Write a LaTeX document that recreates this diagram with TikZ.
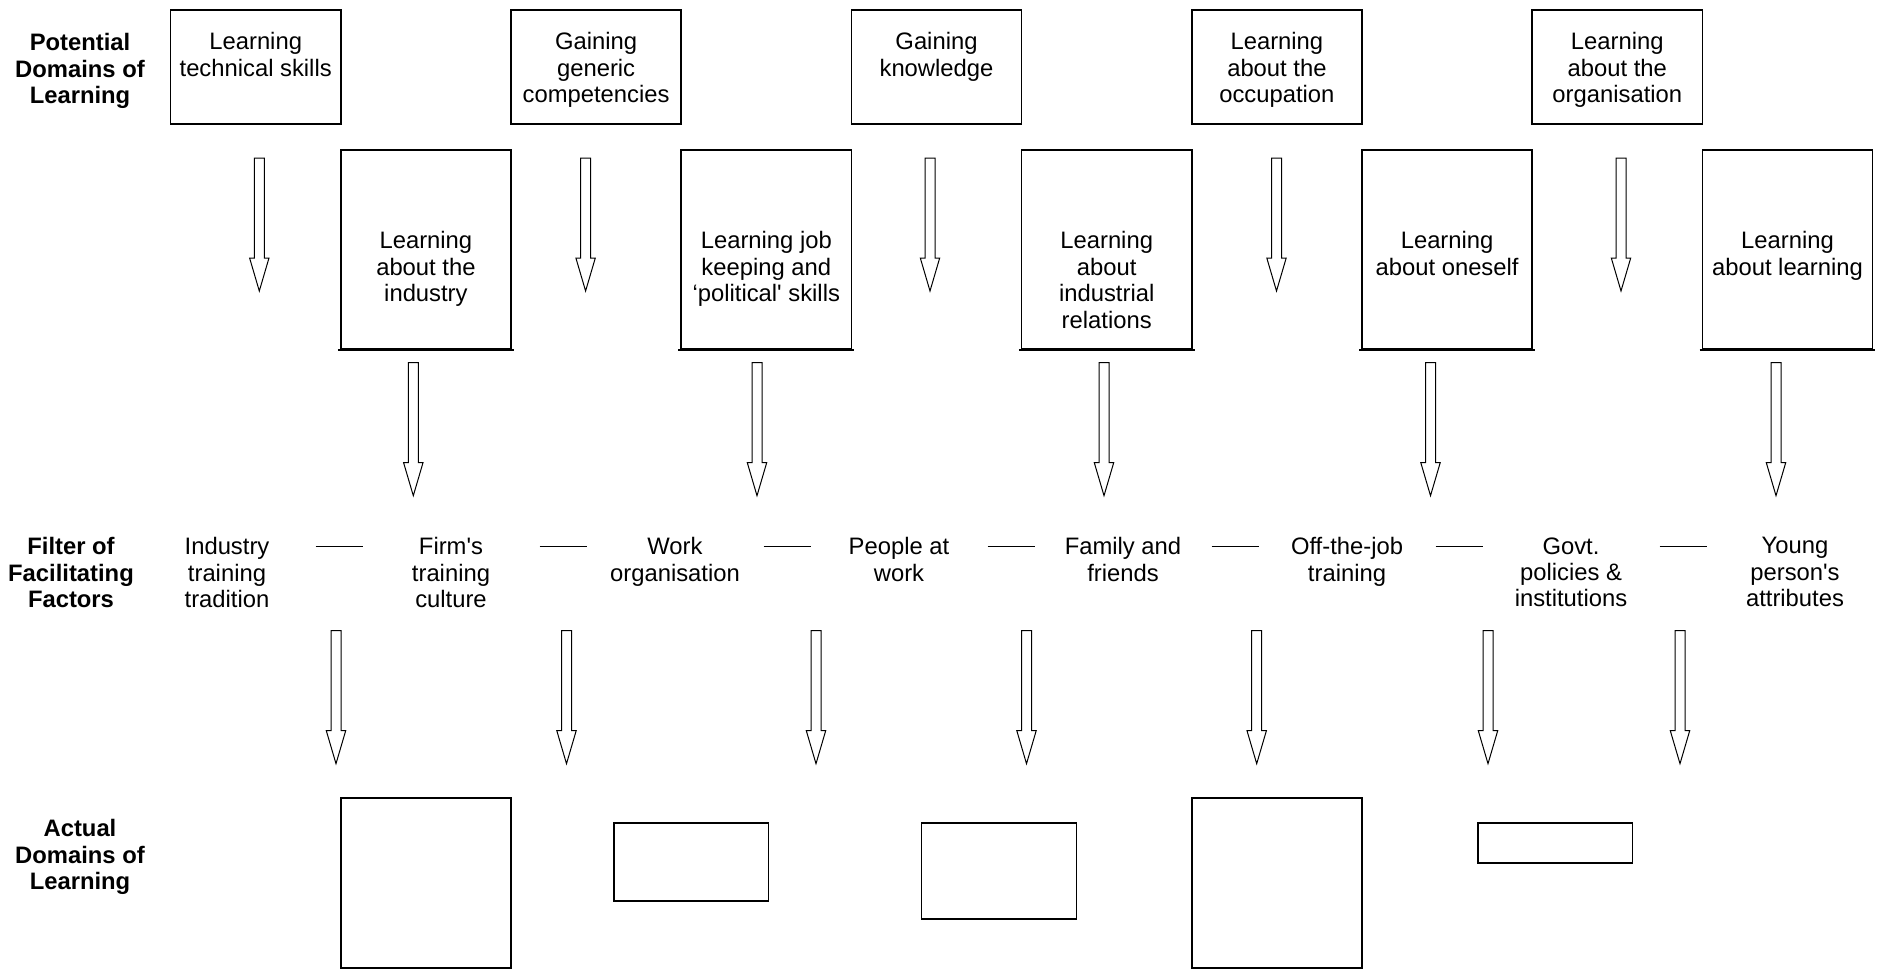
\documentclass[tikz,border=0pt]{standalone}
\usepackage{fontspec}
\setmainfont{Liberation Sans}
\usetikzlibrary{calc}

\begin{document}
\begin{tikzpicture}[x=0.5pt, y=-0.5pt, line join=miter,
  font=\fontsize{11.9}{13.2}\selectfont,
  topbox/.style={draw, line width=0.85pt, minimum width=85.1pt, minimum height=57pt, inner sep=0},
  midbox/.style={draw, line width=0.85pt, minimum width=85.1pt, minimum height=99.5pt, inner sep=0},
  actbox/.style={draw, line width=0.8pt, inner sep=0},
  txt/.style={anchor=north, inner sep=0, align=center},
  head/.style={txt, font=\fontsize{11.9}{13.2}\selectfont\bfseries},
  hollowarrow/.pic={\draw[line width=0.5pt] (-5,0) -- (5,0) -- (5,100) -- (9.7,100) -- (0,133) -- (-9.7,100) -- (-5,100) -- cycle;}
]
	\useasboundingbox (0,0) rectangle (1881,970);

	% row titles
	\node[head] (potential) at (80,33) {Potential\\Domains of\\Learning};
	\node[head] (filter) at (71,537) {Filter of\\Facilitating\\Factors};
	\node[head] (actual) at (80,819) {Actual\\Domains of\\Learning};

	% potential domains, upper row
	\node[topbox] (tech) at (255.7,67) {};
	\node[txt] at ([yshift=-11.5pt]tech.north) {Learning\\technical skills};
	\node[topbox] (generic) at (596.1,67) {};
	\node[txt] at ([yshift=-11.5pt]generic.north) {Gaining\\generic\\competencies};
	\node[topbox] (knowledge) at (936.5,67) {};
	\node[txt] at ([yshift=-11.5pt]knowledge.north) {Gaining\\knowledge};
	\node[topbox] (occupation) at (1276.9,67) {};
	\node[txt] at ([yshift=-11.5pt]occupation.north) {Learning\\about the\\occupation};
	\node[topbox] (organisation) at (1617.3,67) {};
	\node[txt] at ([yshift=-11.5pt]organisation.north) {Learning\\about the\\organisation};

	% potential domains, lower row
	\node[midbox] (industry) at (425.9,249.5) {};
	\node[txt] at ([yshift=-41pt]industry.north) {Learning\\about the\\industry};
	\node[midbox] (political) at (766.3,249.5) {};
	\node[txt] at ([yshift=-41pt]political.north) {Learning job\\keeping and\\`political\textquotesingle{} skills};
	\node[midbox] (relations) at (1106.7,249.5) {};
	\node[txt] at ([yshift=-41pt]relations.north) {Learning\\about\\industrial\\relations};
	\node[midbox] (oneself) at (1447.1,249.5) {};
	\node[txt] at ([yshift=-41pt]oneself.north) {Learning\\about oneself};
	\node[midbox] (learning) at (1787.5,249.5) {};
	\node[txt] at ([yshift=-41pt]learning.north) {Learning\\about learning};
	\foreach \b in {industry,political,relations,oneself,learning}
		\draw[line width=1.1pt] ([xshift=-1pt]\b.south west) -- ([xshift=1pt]\b.south east);

	% facilitating factors
	\node[txt] (f1) at (227,537) {Industry\\training\\tradition};
	\node[txt] (f2) at (451,537) {Firm\textquotesingle s\\training\\culture};
	\node[txt] (f3) at (675,537) {Work\\organisation};
	\node[txt] (f4) at (899,537) {People at\\work};
	\node[txt] (f5) at (1123,537) {Family and\\friends};
	\node[txt] (f6) at (1347,537) {Off-the-job\\training};
	\node[txt] (f7) at (1571,537) {Govt.\\policies \&\\institutions};
	\node[txt] (f8) at (1795,537) {Young\\person\textquotesingle s\\attributes};
	\foreach \i/\j in {1/2,2/3,3/4,4/5,5/6,6/7,7/8}
		\draw[line width=0.5pt] ($($(f\i.north)!0.5!(f\j.north)$)+(-23.5,9)$) -- ++(47,0);

	% actual domains
	\node[actbox, minimum width=85.1pt, minimum height=85pt] (act1) at (425.9,882.7) {};
	\node[actbox, minimum width=77.3pt, minimum height=39.15pt] (act2) at (691,861.85) {};
	\node[actbox, minimum width=77.4pt, minimum height=48pt] (act3) at (999,871.1) {};
	\node[actbox, minimum width=85.1pt, minimum height=85pt] (act4) at (1276.9,882.7) {};
	\node[actbox, minimum width=77.3pt, minimum height=20.15pt] (act5) at (1555,842.85) {};

	% block arrows
	\foreach \x in {259.3,585.6,930,1276.5,1621}
		\pic at (\x,158) {hollowarrow};
	\foreach \x in {413.3,757,1104,1430.5,1776}
		\pic at (\x,362.7) {hollowarrow};
	\foreach \x in {336,566.5,816,1026.5,1256.7,1488,1680}
		\pic at (\x,630.7) {hollowarrow};
\end{tikzpicture}
\end{document}
